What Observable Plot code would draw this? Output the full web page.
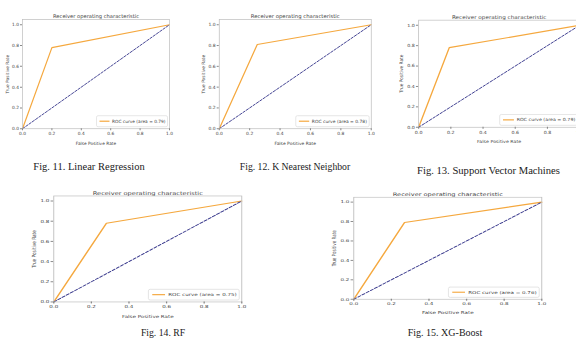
<!DOCTYPE html>
<html><head><meta charset="utf-8">
<script src="https://cdn.jsdelivr.net/npm/d3@7"></script>
<script src="https://cdn.jsdelivr.net/npm/@observablehq/plot@0.6"></script>
<style>
html,body{margin:0;padding:0;background:#fff;}
#root{position:relative;width:576px;height:338px;overflow:hidden;background:#fff;}
.panel{position:absolute;}
.panel svg{overflow:visible;display:block;max-width:none !important;}
.cap{position:absolute;font-family:"Liberation Serif","Times New Roman",serif;color:#1a1a1a;white-space:nowrap;transform:translate(-50%,-50%);}
</style></head><body><div id="root"></div>
<script>
// ---- data ----
const figNumbers = [11, 12, 13, 14, 15];
const modelNames = ["Linear Regression", "K Nearest Neighbor", "Support Vector Machines", "RF", "XG-Boost"];
const fprPoints = [[0, 0.20, 1], [0, 0.25, 1], [0, 0.19, 1], [0, 0.28, 1], [0, 0.27, 1]];
const tprPoints = [[0, 0.78, 1], [0, 0.81, 1], [0, 0.78, 1], [0, 0.78, 1], [0, 0.79, 1]];
const aucValues = [0.79, 0.78, 0.79, 0.75, 0.76];
const chanceLine = [0, 1];
const tickValues = [0, 0.2, 0.4, 0.6, 0.8, 1.0];
const chartTitle = "Receiver operating characteristic";
const xLabel = "False Positive Rate";
const yLabel = "True Positive Rate";

// ---- layout (pixels in the page) ----
const panels = [
  {fx: 22,  fy: 18.8, fw: 147, fh: 109.2, cx: 89,    cy: 166, cs: 10.5},
  {fx: 219, fy: 18.8, fw: 152, fh: 109.2, cx: 295,   cy: 166, cs: 9.7},
  {fx: 418, fy: 19.9, fw: 161, fh: 107.1, cx: 488.5, cy: 170, cs: 10.6},
  {fx: 53,  fy: 195,  fw: 188, fh: 106,   cx: 163,   cy: 332, cs: 9.7},
  {fx: 353, fy: 197,  fw: 188, fh: 102,   cx: 445,   cy: 332, cs: 10}
];
const base = {width: 192, height: 150, ml: 22, mr: 23, mt: 19, mb: 22};
const baseFW = base.width - base.ml - base.mr;
const baseFH = base.height - base.mt - base.mb;
const rocColor = "#f5a83e";
const chanceColor = "#35358a";

function legendMark(label) {
  return (index, scales, values, dims) => {
    const g = d3.create("svg:g");
    const right = dims.width - dims.marginRight - 1.5;
    const bottom = dims.height - dims.marginBottom - 1.5;
    const w = 71, h = 11;
    g.append("rect").attr("x", right - w).attr("y", bottom - h).attr("width", w).attr("height", h)
      .attr("rx", 1.5).attr("fill", "#fff").attr("stroke", "#d6d6d6").attr("stroke-width", 0.6);
    g.append("line").attr("x1", right - w + 3).attr("x2", right - w + 13)
      .attr("y1", bottom - h / 2).attr("y2", bottom - h / 2)
      .attr("stroke", rocColor).attr("stroke-width", 1.2);
    g.append("text").attr("x", right - w + 15.5).attr("y", bottom - h / 2)
      .attr("dy", "0.35em").attr("text-anchor", "start").attr("font-size", 4.35).attr("fill", "#444").text(label);
    return g.node();
  };
}

const root = document.getElementById("root");
panels.forEach((p, k) => {
  const idx = d3.range(fprPoints[k].length);
  const chart = Plot.plot({
    width: base.width, height: base.height,
    marginLeft: base.ml, marginRight: base.mr, marginTop: base.mt, marginBottom: base.mb,
    style: {fontFamily: "DejaVu Sans", fontSize: "4.35px", color: "#444", background: "transparent", overflow: "visible"},
    x: {domain: [0, 1]},
    y: {domain: [0, 1.05]},
    marks: [
      Plot.line(idx, {x: i => fprPoints[k][i], y: i => tprPoints[k][i], stroke: rocColor, strokeWidth: 1.2}),
      Plot.line(chanceLine, {x: d => d, y: d => d, stroke: chanceColor, strokeWidth: 0.9, strokeDasharray: "2.5,1.5"}),
      Plot.frame({stroke: "#bdbdbd", strokeWidth: 0.7}),
      Plot.axisX(tickValues, {tickFormat: d3.format(".1f"), tickSize: 2, tickPadding: 1.5, stroke: "#888",
        label: xLabel, labelAnchor: "center", labelArrow: "none", labelOffset: 16}),
      Plot.axisY(tickValues, {tickFormat: d3.format(".1f"), tickSize: 2, tickPadding: 1.5, stroke: "#888",
        label: yLabel, labelAnchor: "center", labelArrow: "none", labelOffset: 17}),
      Plot.text([chartTitle], {text: d => d, frameAnchor: "top", dy: -5, fontSize: 5.2, fill: "#444"}),
      legendMark(`ROC curve (area = ${aucValues[k].toFixed(2)})`)
    ]
  });
  const sx = p.fw / baseFW, sy = p.fh / baseFH;
  const W = base.width * sx, H = base.height * sy;
  chart.setAttribute("viewBox", `0 0 ${base.width} ${base.height}`);
  chart.setAttribute("preserveAspectRatio", "none");
  chart.setAttribute("width", W);
  chart.setAttribute("height", H);
  chart.style.width = W + "px";
  chart.style.height = H + "px";
  chart.style.maxWidth = "none";
  const wrap = document.createElement("div");
  wrap.className = "panel";
  wrap.style.left = (p.fx - base.ml * sx) + "px";
  wrap.style.top = (p.fy - base.mt * sy) + "px";
  wrap.style.width = W + "px";
  wrap.style.height = H + "px";
  wrap.appendChild(chart);
  root.appendChild(wrap);

  const cap = document.createElement("div");
  cap.className = "cap";
  cap.style.left = p.cx + "px";
  cap.style.top = p.cy + "px";
  cap.style.fontSize = p.cs + "px";
  cap.textContent = `Fig. ${figNumbers[k]}. ${modelNames[k]}`;
  root.appendChild(cap);
});
</script></body></html>
